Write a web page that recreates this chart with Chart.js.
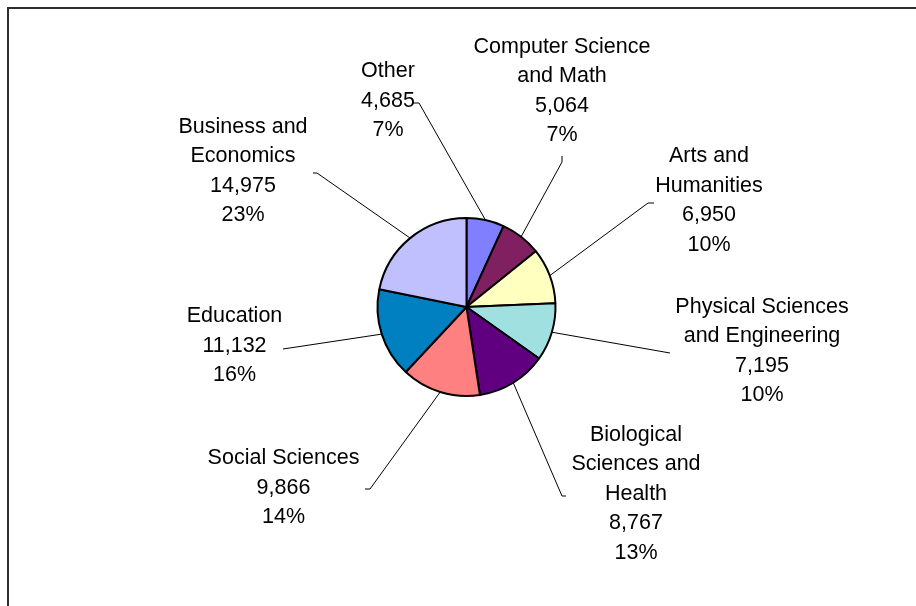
<!DOCTYPE html>
<html>
<head>
<meta charset="utf-8">
<script src="https://cdn.jsdelivr.net/npm/chart.js@4"></script>
<style>
  html, body { margin: 0; padding: 0; background: #fff; overflow: hidden; }
</style>
</head>
<body>
<canvas id="myChart" width="916" height="606"></canvas>
<script>
// degrees by field, clockwise from 12 o'clock
const categories = [
    "Other",
    "Computer Science\nand Math",
    "Arts and\nHumanities",
    "Physical Sciences\nand Engineering",
    "Biological\nSciences and\nHealth",
    "Social Sciences",
    "Education",
    "Business and\nEconomics"
];
const degrees = [4685, 5064, 6950, 7195, 8767, 9866, 11132, 14975];
const percentLabels = ["7%", "7%", "10%", "10%", "13%", "14%", "16%", "23%"];
const sliceColors = ["#8080ff", "#802060", "#ffffc0", "#a0e0e0", "#600080", "#ff8080", "#0080c0", "#c0c0ff"];

// label placement relative to the pie centre:
// text = centre of the text block, lead = where the leader meets the label, tick = short end stub
const labelLayout = [
    { text: [-78.5, -206], lead: [-47.5, -204], tick: [-53.5, -204] },
    { text: [95.5, -216], lead: [95.5, -145], tick: [95.5, -151] },
    { text: [242.5, -106.5], lead: [181.5, -104], tick: [187.5, -104] },
    { text: [295.5, 44], lead: [203.5, 46], tick: [203.5, 46] },
    { text: [169.5, 187], lead: [95.5, 189], tick: [99.5, 189] },
    { text: [-183, 181], lead: [-96.5, 182], tick: [-101.5, 182] },
    { text: [-232, 39], lead: [-183.5, 42], tick: [-183.5, 42] },
    { text: [-223.5, -136], lead: [-149.5, -134], tick: [-153.5, -134] }
];
const lineHeight = 29.5;

function fmt(n) {
    return n.toLocaleString("en-US");
}

const frameAndLabels = {
    id: "frameAndLabels",
    beforeDraw(chart) {
        const ctx = chart.ctx;
        ctx.save();
        ctx.fillStyle = "#fff";
        ctx.fillRect(0, 0, chart.width, chart.height);
        // outer frame, runs off the right and bottom edges
        ctx.strokeStyle = "#2e2e2e";
        ctx.lineWidth = 2;
        ctx.beginPath();
        ctx.moveTo(chart.width + 5, 8);
        ctx.lineTo(8, 8);
        ctx.lineTo(8, chart.height + 5);
        ctx.stroke();
        ctx.restore();
    },
    afterDatasetsDraw(chart) {
        const ctx = chart.ctx;
        const meta = chart.getDatasetMeta(0);
        ctx.save();
        meta.data.forEach((arc, i) => {
            const p = arc.getProps(["x", "y", "startAngle", "endAngle", "outerRadius"], true);
            const mid = (p.startAngle + p.endAngle) / 2;
            const sx = p.x + Math.cos(mid) * p.outerRadius;
            const sy = p.y + Math.sin(mid) * p.outerRadius;
            const L = labelLayout[i];

            ctx.strokeStyle = "#000";
            ctx.lineWidth = 1;
            ctx.beginPath();
            ctx.moveTo(sx, sy);
            ctx.lineTo(p.x + L.lead[0], p.y + L.lead[1]);
            ctx.lineTo(p.x + L.tick[0], p.y + L.tick[1]);
            ctx.stroke();

            const lines = categories[i].split("\n").concat([fmt(degrees[i]), percentLabels[i]]);
            ctx.fillStyle = "#000";
            ctx.font = "21.5px 'Liberation Sans', Arial, sans-serif";
            ctx.textAlign = "center";
            ctx.textBaseline = "middle";
            const cx = p.x + L.text[0];
            const top = p.y + L.text[1] - (lines.length - 1) * lineHeight / 2;
            lines.forEach((t, j) => ctx.fillText(t, cx, top + j * lineHeight));
        });
        ctx.restore();
    }
};

const canvas = document.getElementById("myChart");
new Chart(canvas, {
    type: "pie",
    data: {
        labels: categories,
        datasets: [{
            data: degrees,
            backgroundColor: sliceColors,
            borderColor: "#000",
            borderWidth: 2,
            radius: 89
        }]
    },
    options: {
        responsive: false,
        animation: false,
        layout: { padding: { left: 17, top: 8, right: 0, bottom: 0 } },
        plugins: {
            legend: { display: false },
            tooltip: { enabled: false }
        }
    },
    plugins: [frameAndLabels]
});
</script>
</body>
</html>
